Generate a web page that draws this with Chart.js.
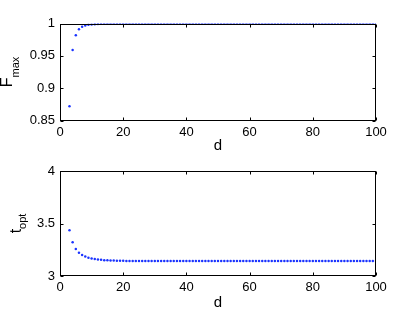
<!DOCTYPE html>
<html>
<head>
<meta charset="utf-8">
<script src="https://cdn.jsdelivr.net/npm/chart.js@4"></script>
<style>
  body { margin: 0; background: #fff; }
  #wrap { position: relative; width: 415px; height: 313px; }
  canvas { position: absolute; left: 0; }
</style>
</head>
<body>
<div id="wrap">
  <canvas id="top-chart" width="415" height="156" style="top:0"></canvas>
  <canvas id="bottom-chart" width="415" height="157" style="top:156px"></canvas>
</div>
<script>
const dims = [3, 4, 5, 6, 7, 8, 9, 10, 11, 12, 13, 14, 15, 16, 17, 18, 19, 20,
  21, 22, 23, 24, 25, 26, 27, 28, 29, 30, 31, 32, 33, 34, 35, 36, 37, 38, 39, 40,
  41, 42, 43, 44, 45, 46, 47, 48, 49, 50, 51, 52, 53, 54, 55, 56, 57, 58, 59, 60,
  61, 62, 63, 64, 65, 66, 67, 68, 69, 70, 71, 72, 73, 74, 75, 76, 77, 78, 79, 80,
  81, 82, 83, 84, 85, 86, 87, 88, 89, 90, 91, 92, 93, 94, 95, 96, 97, 98, 99, 100];

const fMax = [0.872, 0.959, 0.982, 0.991, 0.995, 0.997, 0.998, 0.9985, 0.999, 0.9993,
  0.9995, 0.9996, 0.9997, 0.9997, 0.9998, 0.9998, 0.9998, 0.9999,
  0.9999, 0.9999, 0.9999, 0.9999, 0.9999, 0.9999, 0.9999, 0.9999, 0.9999, 1,
  1, 1, 1, 1, 1, 1, 1, 1, 1, 1, 1, 1, 1, 1, 1, 1, 1, 1, 1, 1, 1, 1,
  1, 1, 1, 1, 1, 1, 1, 1, 1, 1, 1, 1, 1, 1, 1, 1, 1, 1, 1, 1, 1, 1,
  1, 1, 1, 1, 1, 1, 1, 1, 1, 1, 1, 1, 1, 1, 1, 1, 1, 1, 1, 1, 1, 1, 1, 1, 1, 1];

const tOpt = [3.435, 3.321, 3.257, 3.222, 3.200, 3.185, 3.175, 3.167, 3.161, 3.157,
  3.154, 3.151, 3.149, 3.148, 3.147, 3.146, 3.145, 3.145,
  3.144, 3.144, 3.143, 3.143, 3.143, 3.143, 3.143, 3.142, 3.142, 3.142,
  3.142, 3.142, 3.142, 3.142, 3.142, 3.142, 3.142, 3.142, 3.142, 3.142, 3.142, 3.142,
  3.142, 3.142, 3.142, 3.142, 3.142, 3.142, 3.142, 3.142, 3.142, 3.142, 3.142, 3.142,
  3.142, 3.142, 3.142, 3.142, 3.142, 3.142, 3.142, 3.142, 3.142, 3.142, 3.142, 3.142,
  3.142, 3.142, 3.142, 3.142, 3.142, 3.142, 3.142, 3.142, 3.142, 3.142, 3.142, 3.142,
  3.142, 3.142, 3.142, 3.142, 3.142, 3.142, 3.142, 3.142, 3.142, 3.142, 3.142, 3.142,
  3.142, 3.142, 3.142, 3.142, 3.142, 3.142, 3.142, 3.142, 3.142, 3.142];

const xTicks = [0, 20, 40, 60, 80, 100];
const fTicks = [0.85, 0.9, 0.95, 1];
const tTicks = [3, 3.5, 4];

const FONT = "'Liberation Sans', Arial, sans-serif";

// matlab style box with inward ticks on all four sides
const boxPlugin = {
  id: "box",
  afterDraw(chart) {
    const { ctx, chartArea: a, scales } = chart;
    const L = Math.round(a.left) + 0.5, R = Math.round(a.right) - 0.5;
    const T = Math.round(a.top) + 0.5, B = Math.round(a.bottom) - 0.5;
    ctx.save();
    ctx.strokeStyle = "#000";
    ctx.lineWidth = 1;
    ctx.strokeRect(L, T, R - L, B - T);
    ctx.beginPath();
    scales.x.ticks.forEach(t => {
      const px = Math.round(scales.x.getPixelForValue(t.value)) + 0.5;
      ctx.moveTo(px, B); ctx.lineTo(px, B - 3);
      ctx.moveTo(px, T); ctx.lineTo(px, T + 3);
    });
    scales.y.ticks.forEach(t => {
      const py = Math.round(scales.y.getPixelForValue(t.value)) + 0.5;
      ctx.moveTo(L, py); ctx.lineTo(L + 3, py);
      ctx.moveTo(R, py); ctx.lineTo(R - 3, py);
    });
    ctx.stroke();
    ctx.restore();
  }
};

// rotated y label with a subscript
const ylabelPlugin = {
  id: "ylabel",
  afterDraw(chart, args, opts) {
    const { ctx, chartArea: a } = chart;
    const cy = (a.top + a.bottom) / 2;
    ctx.save();
    ctx.fillStyle = "#000";
    ctx.textBaseline = "alphabetic";
    ctx.font = "16px " + FONT;
    const w1 = ctx.measureText(opts.main).width;
    ctx.font = "11px " + FONT;
    const w2 = ctx.measureText(opts.sub).width;
    ctx.translate(opts.x, cy);
    ctx.rotate(-Math.PI / 2);
    const start = -(w1 + w2) / 2;
    ctx.font = "16px " + FONT;
    ctx.fillText(opts.main, start, 0);
    ctx.font = "11px " + FONT;
    ctx.fillText(opts.sub, start + w1, opts.drop);
    ctx.restore();
  }
};

function makeChart(id, values, yMin, yMax, yTickVals, padTop, xHeight, label) {
  return new Chart(document.getElementById(id), {
    type: "scatter",
    data: {
      datasets: [{
        data: dims.map((d, i) => ({ x: d, y: values[i] })),
        backgroundColor: "#1a33ff",
        borderWidth: 0,
        pointRadius: 1.25,
        pointHoverRadius: 1.25,
        showLine: false
      }]
    },
    options: {
      responsive: false,
      animation: false,
      events: [],
      layout: { padding: { top: padTop, right: 39, left: 0, bottom: 0 } },
      plugins: {
        legend: { display: false },
        tooltip: { enabled: false },
        ylabel: label
      },
      scales: {
        x: {
          type: "linear",
          min: xTicks[0],
          max: xTicks[xTicks.length - 1],
          afterBuildTicks: s => { s.ticks = xTicks.map(v => ({ value: v })); },
          afterFit: s => { s.height = xHeight; },
          grid: { display: false, drawTicks: false },
          border: { display: false },
          ticks: {
            padding: 4,
            color: "#000",
            maxRotation: 0,
            autoSkip: false,
            font: { family: FONT, size: 13 },
            callback: v => String(v)
          },
          title: {
            display: true,
            text: "d",
            color: "#000",
            padding: { top: 0, bottom: 1 },
            font: { family: FONT, size: 15 }
          }
        },
        y: {
          min: yMin,
          max: yMax,
          afterBuildTicks: s => { s.ticks = yTickVals.map(v => ({ value: v })); },
          afterFit: s => { s.width = 60; },
          grid: { display: false, drawTicks: false },
          border: { display: false },
          ticks: {
            padding: 5,
            color: "#000",
            autoSkip: false,
            font: { family: FONT, size: 13 },
            callback: v => String(Math.round(v * 100) / 100)
          }
        }
      }
    },
    plugins: [boxPlugin, ylabelPlugin]
  });
}

makeChart("top-chart", fMax, 0.85, 1, fTicks, 23.5, 35.5,
  { main: "F", sub: "max", x: 12, drop: 7 });
makeChart("bottom-chart", tOpt, 3, 4, tTicks, 15, 37,
  { main: "t", sub: "opt", x: 21, drop: 5 });
</script>
</body>
</html>
